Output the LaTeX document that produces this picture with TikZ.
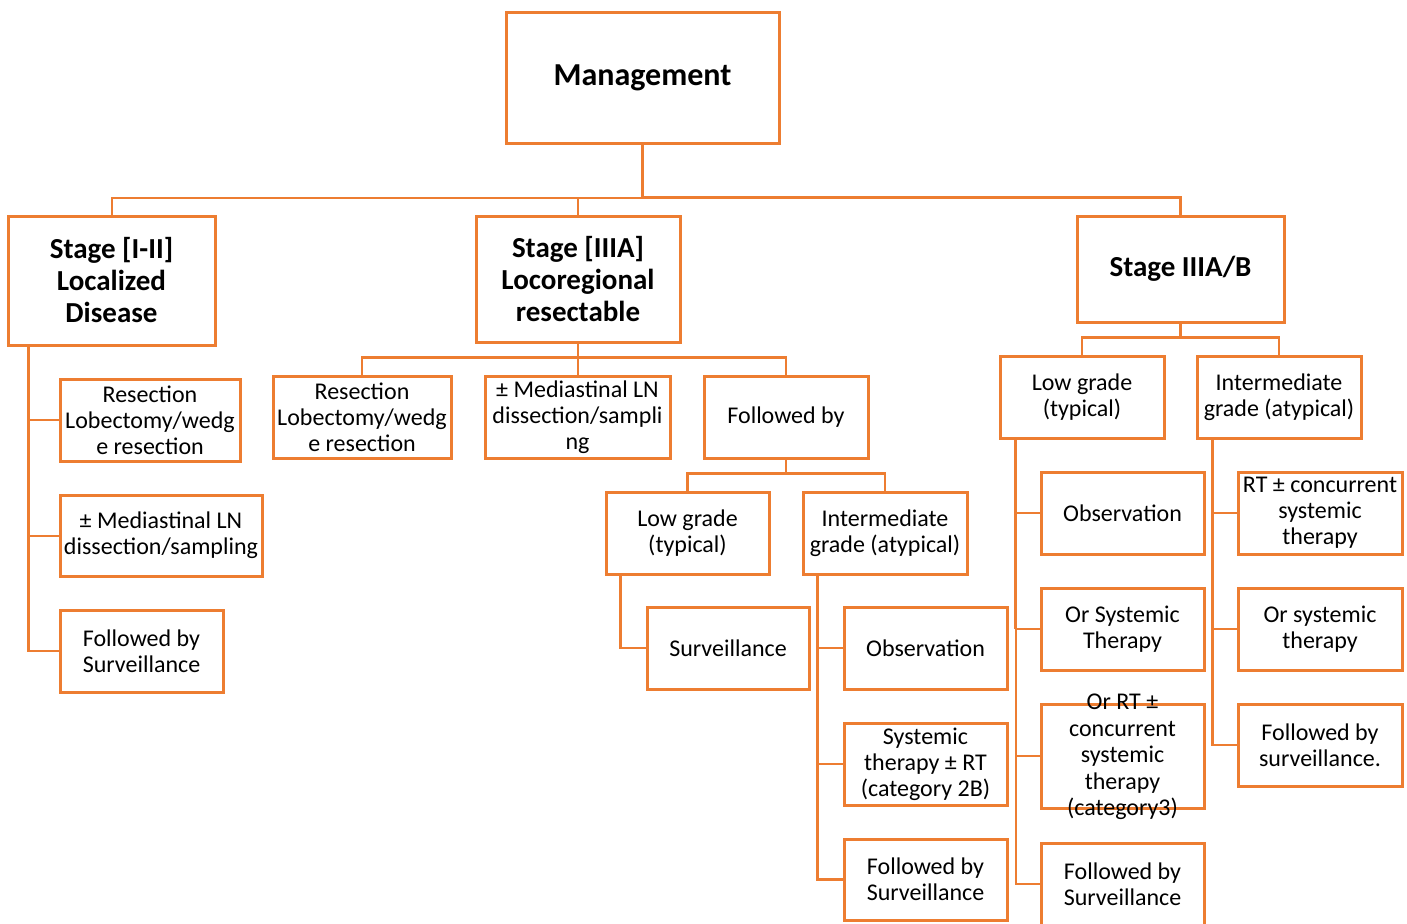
\documentclass[tikz,border=0pt]{standalone}
\usepackage{fontspec}
\setmainfont{Carlito}
\definecolor{org}{HTML}{ED7D31}
\begin{document}
\begin{tikzpicture}[x=1pt,y=-1pt,
  box/.style={draw=org, line width=3pt, fill=white, align=center, inner sep=1pt, font=\fontsize{24}{26}\selectfont},
  hbox/.style={box, font=\bfseries\fontsize{29}{32}\selectfont},
  conn/.style={draw=org, line width=2.6pt},
  thinc/.style={draw=org, line width=2pt}]
\useasboundingbox (0,0) rectangle (1407,923);
% nodes
\node[box, minimum width=273pt, minimum height=130pt, font=\bfseries\fontsize{32}{36}\selectfont] (mg) at (642.5,78) {Management};
\node[hbox, minimum width=207pt, minimum height=129pt] (s1) at (111.5,280.5) {Stage [I-II]\\Localized\\Disease};
\node[hbox, minimum width=204pt, minimum height=126pt] (s2) at (578,279) {Stage [IIIA]\\Locoregional\\resectable};
\node[hbox, minimum width=207pt, minimum height=106pt] (s3) at (1180.5,269) {Stage IIIA/B};

\node[box, minimum width=180pt, minimum height=82pt] (a1) at (150,420) {Resection\\Lobectomy/wedg\\e resection};
\node[box, minimum width=202pt, minimum height=81pt] (a2) at (161,535.5) {± Mediastinal LN\\dissection/sampling};
\node[box, minimum width=163pt, minimum height=82pt] (a3) at (141.5,651) {Followed by\\Surveillance};

\node[box, minimum width=178pt, minimum height=82pt] (b1) at (362,417) {Resection\\Lobectomy/wedg\\e resection};
\node[box, minimum width=185pt, minimum height=82pt] (b2) at (577.5,417) {± Mediastinal LN\\dissection/sampli\\ng};
\node[box, minimum width=164pt, minimum height=82pt] (b3) at (786,417) {Followed by};
\node[box, minimum width=163pt, minimum height=82pt] (c1) at (687.5,533) {Low grade\\(typical)};
\node[box, minimum width=164pt, minimum height=82pt] (c2) at (885,533) {Intermediate\\grade (atypical)};
\node[box, minimum width=162pt, minimum height=82pt] (d1) at (728,648) {Surveillance};
\node[box, minimum width=163pt, minimum height=82pt] (e1) at (925.5,648) {Observation};
\node[box, minimum width=163pt, minimum height=82pt] (e2) at (925.5,764) {Systemic\\therapy ± RT\\(category 2B)};
\node[box, minimum width=163pt, minimum height=81pt] (e3) at (925.5,879.5) {Followed by\\Surveillance};

\node[box, minimum width=164pt, minimum height=82pt] (g1) at (1082,397) {Low grade\\(typical)};
\node[box, minimum width=164pt, minimum height=82pt] (g2) at (1279,397) {Intermediate\\grade (atypical)};
\node[box, minimum width=163pt, minimum height=82pt] (h1) at (1122.5,513) {Observation};
\node[box, minimum width=163pt, minimum height=82pt] (h2) at (1122.5,629) {Or Systemic\\Therapy};
\node[box, minimum width=163pt, minimum height=104pt] (h3) at (1122.5,756) {};
\node[align=center, inner sep=0pt, font=\fontsize{24}{26.5}\selectfont] (h3t) at ([yshift=-1pt]h3.center) {Or RT ±\\concurrent\\systemic\\therapy\\(category3)};
\node[box, minimum width=163pt, minimum height=82pt] (h4) at (1122.5,884) {Followed by\\Surveillance};
\node[box, minimum width=164pt, minimum height=82pt] (i1) at (1320,513) {RT ± concurrent\\systemic\\therapy};
\node[box, minimum width=164pt, minimum height=82pt] (i2) at (1320,629) {Or systemic\\therapy};
\node[box, minimum width=164pt, minimum height=82pt] (i3) at (1320,745) {Followed by\\surveillance.};

% top level
\coordinate (bus) at ([yshift=17pt]s2.north);
\draw[conn] (mg.south) -- (mg.south |- bus) -| (s3.north);
\draw[thinc] (mg.south |- bus) -| (s1.north);
\draw[thinc] (s2.north) -- (s2.north |- bus);

% stage I-II
\draw[conn] ([xshift=22pt]s1.south west) |- (a3.west);
\draw[thinc] ([xshift=22pt]s1.south west |- a1.west) -- (a1.west);
\draw[thinc] ([xshift=22pt]s1.south west |- a2.west) -- (a2.west);

% stage IIIA
\coordinate (bus2) at ([yshift=17pt]b2.north);
\draw[conn] (s2.south) -- (s2.south |- bus2);
\draw[conn] (b1.north) |- (bus2) -| (b3.north);
\draw[thinc] (b2.north) -- (b2.north |- bus2);
\coordinate (bus3) at ([yshift=17pt]c1.north);
\draw[conn] (b3.south) -- (b3.south |- bus3);
\draw[conn] (c1.north) |- (bus3) -| (c2.north);
\draw[conn] ([xshift=16pt]c1.south west) |- (d1.west);
\draw[conn] ([xshift=16pt]c2.south west) |- (e3.west);
\draw[thinc] ([xshift=16pt]c2.south west |- e1.west) -- (e1.west);
\draw[conn] ([xshift=16pt]c2.south west |- e2.west) -- (e2.west);

% stage IIIA/B
\coordinate (bus4) at ([yshift=17pt]g1.north);
\draw[conn] (s3.south) -- (s3.south |- bus4);
\draw[conn] (g1.north) |- (bus4) -| (g2.north);
\draw[conn] ([xshift=17pt]g1.south west) -- ([xshift=17pt]g1.south west |- h2.west);
\draw[thinc] ([xshift=17pt]g1.south west |- h2.west) |- (h4.west);
\draw[thinc] ([xshift=17pt]g1.south west |- h1.west) -- (h1.west);
\draw[conn] ([xshift=17pt]g1.south west |- h2.west) -- (h2.west);
\draw[thinc] ([xshift=17pt]g1.south west |- h3.west) -- (h3.west);
\draw[conn] ([xshift=17pt]g2.south west) |- (i3.west);
\draw[conn] ([xshift=17pt]g2.south west |- i1.west) -- (i1.west);
\draw[thinc] ([xshift=17pt]g2.south west |- i2.west) -- (i2.west);
\end{tikzpicture}
\end{document}
